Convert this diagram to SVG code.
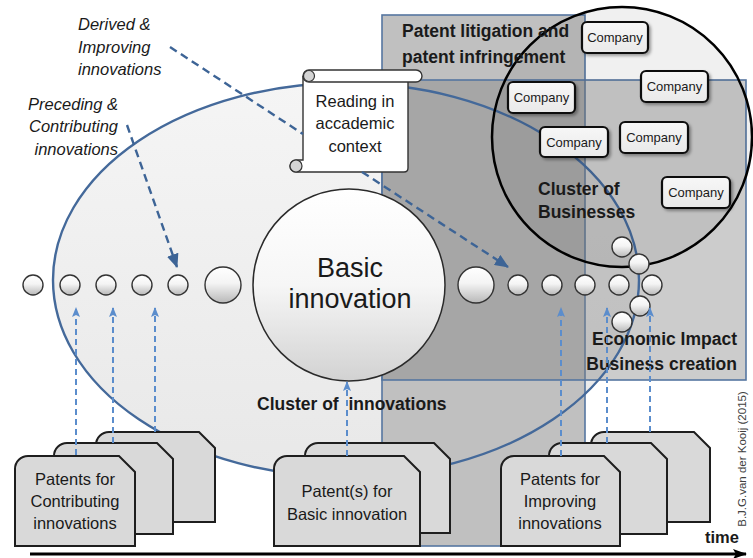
<svg xmlns="http://www.w3.org/2000/svg" width="753" height="558" viewBox="0 0 753 558">
<defs>
<style>
text{font-family:"Liberation Sans",Arial,sans-serif;fill:#1a1a1a}
.it{font-style:italic;font-size:16.5px}
.bl{font-weight:bold;font-size:17.5px}
.co{font-size:13px;text-anchor:middle}
.pt{font-size:16.5px;text-anchor:middle}
.rect{stroke:#5676a0;stroke-width:1.6}
.comp{fill:url(#gComp);stroke:#111;stroke-width:2.2;filter:url(#sh)}
.sm{fill:url(#gSmall);stroke:#333;stroke-width:1.4}
.card{fill:#d9d9d9;stroke:#1e1e1e;stroke-width:2}
.dk{fill:none;stroke:#3d6496;stroke-width:2.4;stroke-dasharray:8 5}
.lt{fill:none;stroke:#5b8dcc;stroke-width:2;stroke-dasharray:6 4}
</style>
<linearGradient id="gEll" x1="0" y1="0" x2="0" y2="1"><stop offset="0" stop-color="#f5f5f5"/><stop offset="1" stop-color="#e8e8e8"/></linearGradient>
<linearGradient id="gSmall" x1="0" y1="0" x2="0" y2="1"><stop offset="0" stop-color="#ffffff"/><stop offset="0.45" stop-color="#f4f4f4"/><stop offset="1" stop-color="#b8b8b8"/></linearGradient>
<linearGradient id="gBig" x1="0" y1="0" x2="0" y2="1"><stop offset="0" stop-color="#ffffff"/><stop offset="0.5" stop-color="#f6f6f6"/><stop offset="1" stop-color="#d2d2d2"/></linearGradient>
<linearGradient id="gComp" x1="0" y1="0" x2="0" y2="1"><stop offset="0" stop-color="#f7f7f7"/><stop offset="1" stop-color="#e9e9e9"/></linearGradient>
<filter id="sh" x="-20%" y="-20%" width="140%" height="140%"><feDropShadow dx="2" dy="2" stdDeviation="1.5" flood-color="#000" flood-opacity="0.35"/></filter>
<marker id="aDk" markerUnits="userSpaceOnUse" markerWidth="14" markerHeight="12" refX="13" refY="6" orient="auto"><path d="M0,0 L14,6 L0,12 z" fill="#3d6496"/></marker>
<marker id="aLt" markerUnits="userSpaceOnUse" markerWidth="10" markerHeight="10" refX="9" refY="4" orient="auto"><path d="M0,0 L10,4 L0,8 L2,4 z" fill="#5b8dcc"/></marker>
<marker id="aBk" markerUnits="userSpaceOnUse" markerWidth="14" markerHeight="12" refX="13" refY="6" orient="auto"><path d="M0,1 L14,6 L0,11 L3,6 z" fill="#000"/></marker>
</defs>

<rect width="753" height="558" fill="#fff"/>

<g id="cluster-of-innovations">
<ellipse cx="346" cy="280" rx="293" ry="197" fill="url(#gEll)"/>
</g>

<g id="patent-litigation">
<rect class="rect" x="382" y="15" width="203" height="531" fill="#c0c0c0"/>
</g>
<g id="economic-impact">
<rect class="rect" x="382" y="80" width="364" height="300" fill="#808080" fill-opacity="0.4"/>
</g>

<g id="cluster-outline">
<ellipse cx="346" cy="280" rx="293" ry="197" fill="none" stroke="#44699a" stroke-width="2.4"/>
</g>

<g id="cluster-of-businesses">
<circle cx="622" cy="137" r="130" fill="#000" fill-opacity="0.06" stroke="#000" stroke-width="2.5"/>
</g>

<g id="companies">
<g id="company-1"><rect class="comp" x="582" y="22" width="66" height="31" rx="5"/><text class="co" x="615" y="42">Company</text></g>
<g id="company-2"><rect class="comp" x="641" y="71" width="67" height="31" rx="5"/><text class="co" x="674.5" y="91">Company</text></g>
<g id="company-3"><rect class="comp" x="508" y="82" width="67" height="31" rx="5"/><text class="co" x="541.5" y="102">Company</text></g>
<g id="company-4"><rect class="comp" x="540" y="127" width="68" height="30" rx="5"/><text class="co" x="574" y="146.5">Company</text></g>
<g id="company-5"><rect class="comp" x="620" y="122" width="68" height="31" rx="5"/><text class="co" x="654" y="142">Company</text></g>
<g id="company-6"><rect class="comp" x="662" y="177" width="68" height="31" rx="5"/><text class="co" x="696" y="197">Company</text></g>
</g>

<g id="innovation-circles">
<circle class="sm" cx="33" cy="285" r="10"/>
<circle class="sm" cx="70" cy="285" r="10"/>
<circle class="sm" cx="106" cy="285" r="10"/>
<circle class="sm" cx="142" cy="285" r="10"/>
<circle class="sm" cx="178" cy="285" r="10"/>
<circle class="sm" cx="223" cy="285" r="18"/>
<circle class="sm" cx="476" cy="285" r="18"/>
<circle class="sm" cx="518" cy="285" r="10"/>
<circle class="sm" cx="552" cy="285" r="10"/>
<circle class="sm" cx="585" cy="285" r="10"/>
<circle class="sm" cx="619" cy="285" r="10"/>
<circle class="sm" cx="652" cy="285" r="10"/>
<circle class="sm" cx="622" cy="247" r="10"/>
<circle class="sm" cx="639" cy="264" r="10"/>
<circle class="sm" cx="640" cy="306" r="10"/>
<circle class="sm" cx="622" cy="322" r="10"/>
</g>

<g id="basic-innovation">
<circle cx="349" cy="285" r="96" fill="url(#gBig)" stroke="#2a2a2a" stroke-width="1.5"/>
<text x="350" y="277" font-size="27" text-anchor="middle">Basic</text>
<text x="350" y="308" font-size="27" text-anchor="middle">innovation</text>
</g>

<g id="reading-scroll">
<path d="M303,76 L303,160 L296,160 A6,6 0 0 0 296,172 L404,172 Q408,172 408,168 L408,82" fill="#fff" stroke="#333" stroke-width="1.4"/>
<rect x="303" y="70" width="119" height="12" rx="6" fill="#fff" stroke="#333" stroke-width="1.4"/>
<circle cx="309" cy="76" r="5.5" fill="#d4d4d4" stroke="#333" stroke-width="1.2"/>
<circle cx="296" cy="166" r="6" fill="#d4d4d4" stroke="#333" stroke-width="1.2"/>
<text class="pt" x="355" y="107">Reading in</text>
<text class="pt" x="355" y="129">accademic</text>
<text class="pt" x="355" y="152">context</text>
</g>

<g id="patents-contributing">
<path class="card" d="M96,522 L96,445 A13,13 0 0 1 109,432 L199,432 L215,448 L215,522 Z"/>
<path class="card" d="M54,534 L54,456 A13,13 0 0 1 67,443 L157,443 L173,459 L173,534 Z"/>
<path class="card" d="M15,546 L15,469 A13,13 0 0 1 28,456 L119,456 L135,472 L135,546 Z"/>
<text class="pt" x="75" y="485">Patents for</text>
<text class="pt" x="75" y="507">Contributing</text>
<text class="pt" x="75" y="529">innovations</text>
</g>

<g id="patents-basic">
<path class="card" d="M305,533 L305,456 A13,13 0 0 1 318,443 L434,443 L450,459 L450,533 Z"/>
<path class="card" d="M274,546 L274,469 A13,13 0 0 1 287,456 L404,456 L420,472 L420,546 Z"/>
<text class="pt" x="347" y="497">Patent(s) for</text>
<text class="pt" x="347" y="520">Basic innovation</text>
</g>

<g id="patents-improving">
<path class="card" d="M591,522 L591,445 A13,13 0 0 1 604,432 L694,432 L710,448 L710,522 Z"/>
<path class="card" d="M549,534 L549,456 A13,13 0 0 1 562,443 L651,443 L667,459 L667,534 Z"/>
<path class="card" d="M501,546 L501,469 A13,13 0 0 1 514,456 L604,456 L620,472 L620,546 Z"/>
<text class="pt" x="560" y="485">Patents for</text>
<text class="pt" x="560" y="507">Improving</text>
<text class="pt" x="560" y="529">innovations</text>
</g>

<g id="labels">
<text class="it" x="78" y="30">Derived &amp;</text>
<text class="it" x="78" y="53">Improving</text>
<text class="it" x="78" y="75">innovations</text>
<text class="it" x="118" y="110" text-anchor="end">Preceding &amp;</text>
<text class="it" x="118" y="132" text-anchor="end">Contributing</text>
<text class="it" x="118" y="155" text-anchor="end">innovations</text>
<text class="bl" x="402" y="37">Patent litigation and</text>
<text class="bl" x="402" y="63">patent infringement</text>
<text class="bl" x="538" y="195">Cluster of</text>
<text class="bl" x="538" y="218">Businesses</text>
<text class="bl" x="737" y="345" text-anchor="end">Economic Impact</text>
<text class="bl" x="737" y="370" text-anchor="end">Business creation</text>
<text class="bl" x="257" y="410" style="white-space:pre">Cluster of  innovations</text>
<text x="705" y="543" font-size="16.5" font-weight="bold">time</text>
<text transform="translate(746,459) rotate(-90)" font-size="11.5" text-anchor="middle" style="fill:#404040">B.J.G.van der Kooij (2015)</text>
</g>

<g id="connectors">
<path class="dk" d="M170,47 L303,134"/>
<path class="dk" d="M362,172 L508,267" marker-end="url(#aDk)"/>
<path class="dk" d="M127,125 L177,267" marker-end="url(#aDk)"/>
<path class="lt" d="M76,455 L76,308" marker-end="url(#aLt)"/>
<path class="lt" d="M113,443 L113,308" marker-end="url(#aLt)"/>
<path class="lt" d="M155,432 L155,308" marker-end="url(#aLt)"/>
<path class="lt" d="M347,456 L347,382" marker-end="url(#aLt)"/>
<path class="lt" d="M561,456 L561,308" marker-end="url(#aLt)"/>
<path class="lt" d="M607,443 L607,308" marker-end="url(#aLt)"/>
<path class="lt" d="M650,432 L650,308" marker-end="url(#aLt)"/>
<path d="M30,554 L746,554" stroke="#000" stroke-width="3" fill="none" marker-end="url(#aBk)"/>
</g>
</svg>
